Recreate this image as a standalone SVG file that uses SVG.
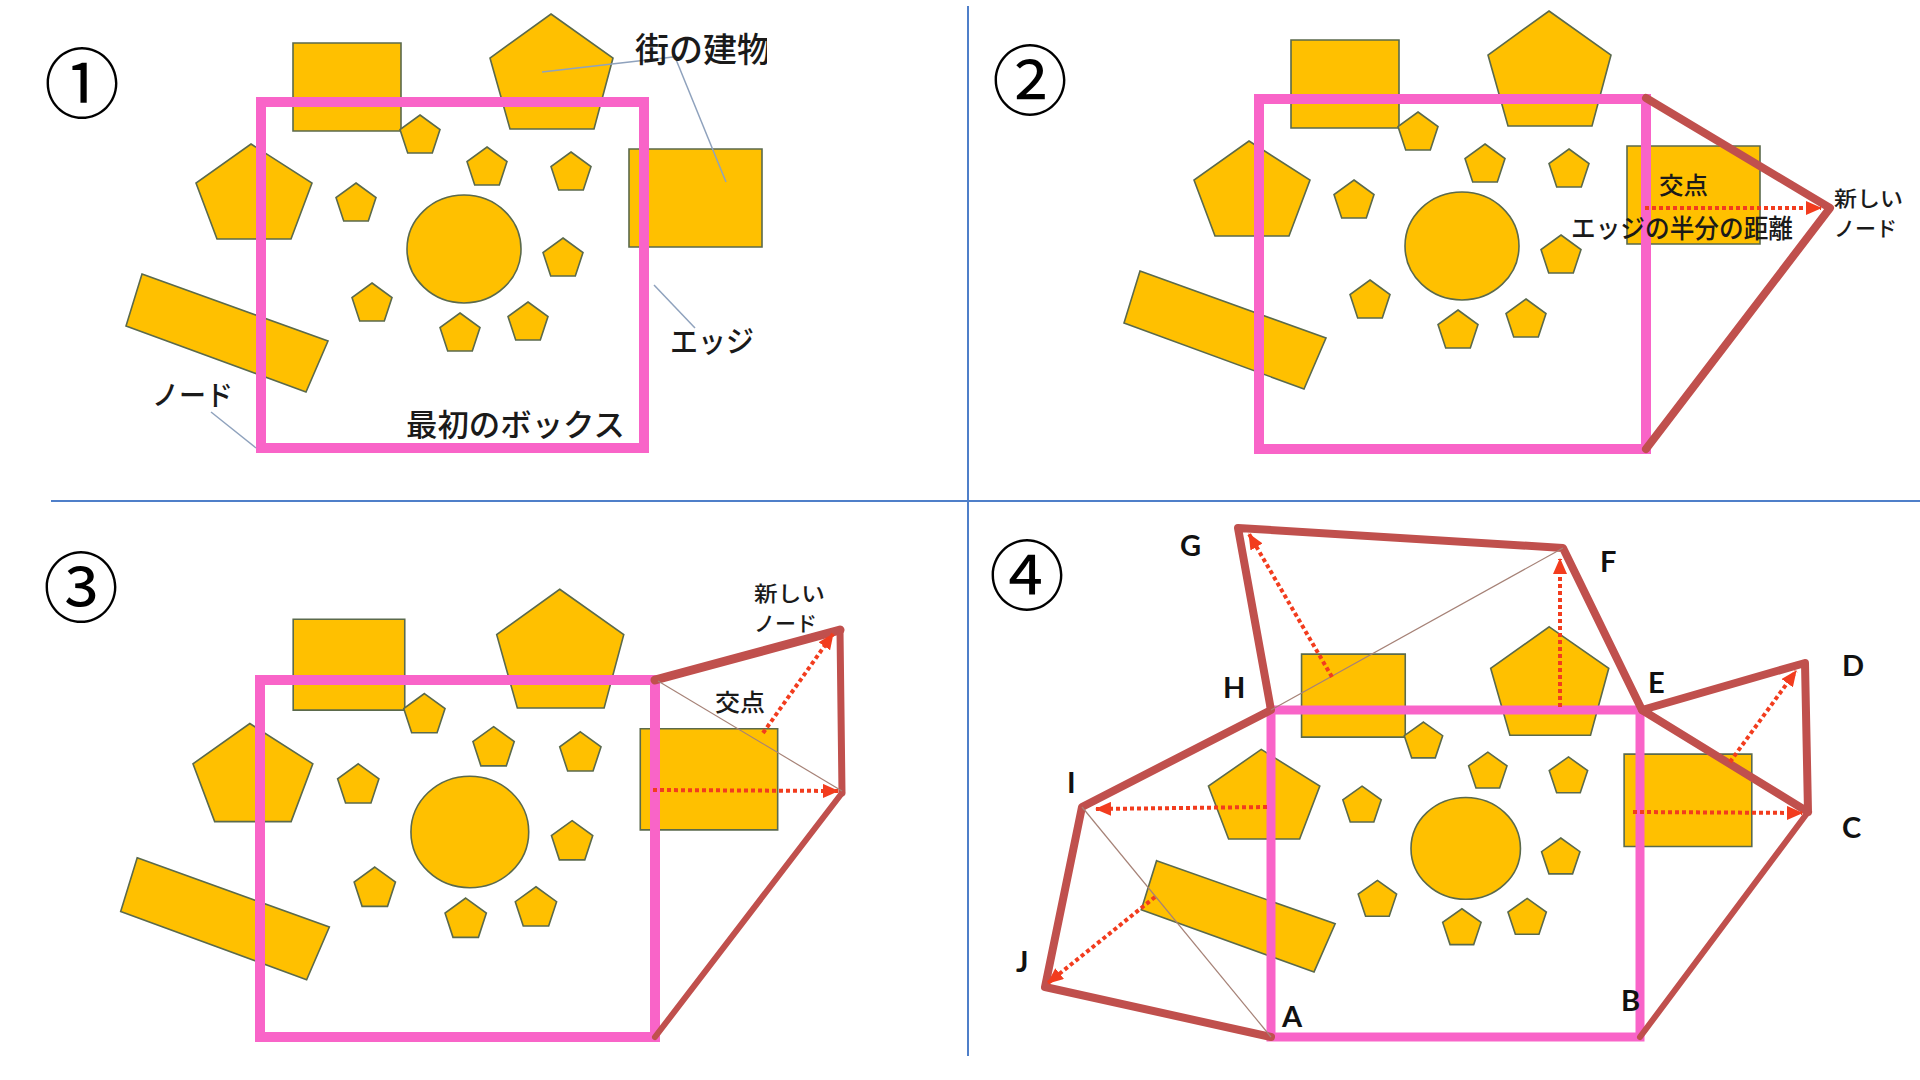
<svg xmlns="http://www.w3.org/2000/svg" xmlns:xlink="http://www.w3.org/1999/xlink" width="1920" height="1080" viewBox="0 0 1920 1080">
<style>
.bld{fill:#ffc000;stroke:#5b6a4c;stroke-width:1.6;vector-effect:non-scaling-stroke}
.box{fill:none;stroke:#f964c8;stroke-width:10;stroke-linejoin:miter}
.edge{fill:none;stroke:#c0504d;stroke-width:8;stroke-linejoin:round;stroke-linecap:round}
.thin{fill:none;stroke:#a68277;stroke-width:1.2}
.dot{fill:none;stroke:#f23c1e;stroke-width:4;stroke-dasharray:4 3;marker-end:url(#ah)}
.call{fill:none;stroke:#8fa2bd;stroke-width:1.5}
.sep{stroke:#4f7fc9;stroke-width:2}
.jp{font-family:'Noto Sans CJK JP','Noto Sans CJK SC',sans-serif;font-weight:500;fill:#1a1a1a}
.num{font-family:'Noto Sans CJK JP',sans-serif;font-size:76px;fill:#000;text-anchor:middle;dominant-baseline:central}
.lbl{font-family:Lato,'Liberation Sans',sans-serif;font-weight:bold;font-size:29px;fill:#111}
</style>
<defs>
<marker id="ah" markerUnits="userSpaceOnUse" markerWidth="16" markerHeight="14" refX="15" refY="7" orient="auto">
<path d="M0,0 L16,7 L0,14 z" fill="#f23c1e"/>
</marker>
<polygon id="sp" class="bld" points="0,-21 20,-6.5 12.3,17 -12.3,17 -20,-6.5"/>
<g id="city">
<rect class="bld" x="36" y="-55" width="108" height="88"/>
<polygon class="bld" points="294,-84 356,-40 337,31 253,31 233,-40"/>
<rect class="bld" x="372" y="51" width="133" height="98"/>
<polygon class="bld" points="-6,46 55,85 34,141 -40,141 -61,85"/>
<ellipse class="bld" cx="207" cy="151" rx="57" ry="54"/>
<use xlink:href="#sp" x="163" y="38"/>
<use xlink:href="#sp" x="230" y="70"/>
<use xlink:href="#sp" x="314" y="75"/>
<use xlink:href="#sp" x="99" y="106"/>
<use xlink:href="#sp" x="306" y="161"/>
<use xlink:href="#sp" x="115" y="206"/>
<use xlink:href="#sp" x="203" y="236"/>
<use xlink:href="#sp" x="271" y="225"/>
</g>
<polygon id="tilt" class="bld" points="-115,176 71,243 49,294 -131,228"/>
<clipPath id="clipQ1"><rect x="0" y="0" width="767" height="500"/></clipPath>
</defs>

<rect x="0" y="0" width="1920" height="1080" fill="#ffffff"/>

<g id="separators">
<line class="sep" x1="51" y1="501" x2="1920" y2="501"/>
<line class="sep" x1="968" y1="6" x2="968" y2="1056"/>
</g>

<!-- Panel 1 -->
<g id="panel1">
<text class="num" x="82" y="79">①</text>
<g id="p1-buildings" transform="translate(257,98)">
<use xlink:href="#city"/>
<use xlink:href="#tilt"/>
</g>
<rect id="p1-box" class="box" x="261" y="102" width="383" height="346"/>
<g id="p1-callouts">
<polyline class="call" points="542,72 673,57"/>
<polyline class="call" points="675,57 726,182"/>
<line class="call" x1="654" y1="285" x2="695" y2="328"/>
<line class="call" x1="211" y1="412" x2="256" y2="448"/>
</g>
<text class="jp" x="635" y="62" font-size="34" clip-path="url(#clipQ1)">街の建物</text>
<text class="jp" x="670" y="352" font-size="30" textLength="84" lengthAdjust="spacingAndGlyphs">エッジ</text>
<text class="jp" x="152" y="406" font-size="28" textLength="81" lengthAdjust="spacingAndGlyphs">ノード</text>
<text class="jp" x="406" y="436" font-size="31" textLength="219" lengthAdjust="spacingAndGlyphs">最初のボックス</text>
</g>

<!-- Panel 2 -->
<g id="panel2">
<text class="num" x="1030" y="76">②</text>
<g id="p2-buildings" transform="translate(1255,95)">
<use xlink:href="#city"/>
<use xlink:href="#tilt"/>
</g>
<rect id="p2-box" class="box" x="1259" y="99" width="387" height="350"/>
</g>

<!-- Panel 3 -->
<g id="panel3">
<text class="num" x="81" y="583">③</text>
<g id="p3-buildings" transform="translate(256,676) scale(1.033)">
<use xlink:href="#city"/>
<use xlink:href="#tilt"/>
</g>
<rect id="p3-box" class="box" x="260" y="680" width="395" height="357"/>
</g>

<!-- Panel 4 -->
<g id="panel4">
<text class="num" x="1027" y="571">④</text>
<g id="p4-buildings" transform="translate(1267,706) scale(0.96,0.943)">
<use xlink:href="#city"/>
<use xlink:href="#tilt" transform="translate(0,-12)"/>
</g>
<rect id="p4-box" class="box" x="1271" y="710" width="369" height="327" style="stroke-width:9"/>
</g>

<g id="connectors">
<!-- panel 2 -->
<polyline class="edge" points="1646,98 1830,208 1646,449"/>
<line class="dot" x1="1645" y1="208" x2="1821" y2="208"/>
<!-- panel 3 -->
<polyline class="edge" points="655,680 840,630" style="stroke-width:9"/>
<polyline class="edge" points="840,630 842,793" style="stroke-width:7"/>
<polyline class="edge" points="842,793 655,1037" style="stroke-width:6"/>
<line class="thin" x1="658" y1="681" x2="842" y2="791"/>
<line class="dot" x1="653" y1="790" x2="838" y2="791"/>
<line class="dot" x1="763" y1="733" x2="833" y2="634"/>
<!-- panel 4 -->
<polyline class="edge" points="1640,1037 1808,812" style="stroke-width:6"/>
<polyline class="edge" points="1808,812 1805,663 1642,710 1808,812"/>
<polyline class="edge" points="1642,710 1563,548 1238,528 1271,710 1082,807 1045,987 1271,1037"/>
<line class="thin" x1="1271" y1="710" x2="1563" y2="548"/>
<line class="thin" x1="1082" y1="807" x2="1271" y2="1037"/>
<line class="dot" x1="1332" y1="677" x2="1249" y2="534"/>
<line class="dot" x1="1560" y1="707" x2="1560" y2="559"/>
<line class="dot" x1="1730" y1="762" x2="1796" y2="671"/>
<line class="dot" x1="1633" y1="812" x2="1802" y2="813"/>
<line class="dot" x1="1267" y1="807" x2="1096" y2="809"/>
<line class="dot" x1="1155" y1="897" x2="1048" y2="983"/>
</g>

<g id="labels">
<text class="jp" x="1659" y="194" font-size="24" font-weight="bold" textLength="49" lengthAdjust="spacingAndGlyphs">交点</text>
<text class="jp" x="1571" y="238" font-size="26" font-weight="bold" textLength="222" lengthAdjust="spacingAndGlyphs">エッジの半分の距離</text>
<text class="jp" x="1834" y="206" font-size="21" textLength="69" lengthAdjust="spacingAndGlyphs">新しい</text>
<text class="jp" x="1834" y="236" font-size="21" textLength="63" lengthAdjust="spacingAndGlyphs">ノード</text>
<text class="jp" x="715" y="711" font-size="24" textLength="50" lengthAdjust="spacingAndGlyphs">交点</text>
<text class="jp" x="754" y="601" font-size="21" textLength="71" lengthAdjust="spacingAndGlyphs">新しい</text>
<text class="jp" x="754" y="631" font-size="21" textLength="63" lengthAdjust="spacingAndGlyphs">ノード</text>
<text class="lbl" x="1180" y="556">G</text>
<text class="lbl" x="1600" y="572">F</text>
<text class="lbl" x="1223" y="698">H</text>
<text class="lbl" x="1648" y="693">E</text>
<text class="lbl" x="1842" y="676">D</text>
<text class="lbl" x="1842" y="838">C</text>
<text class="lbl" x="1067" y="793">I</text>
<text class="lbl" x="1016" y="972">J</text>
<text class="lbl" x="1621" y="1011">B</text>
<text class="lbl" x="1282" y="1027">A</text>
</g>
</svg>
